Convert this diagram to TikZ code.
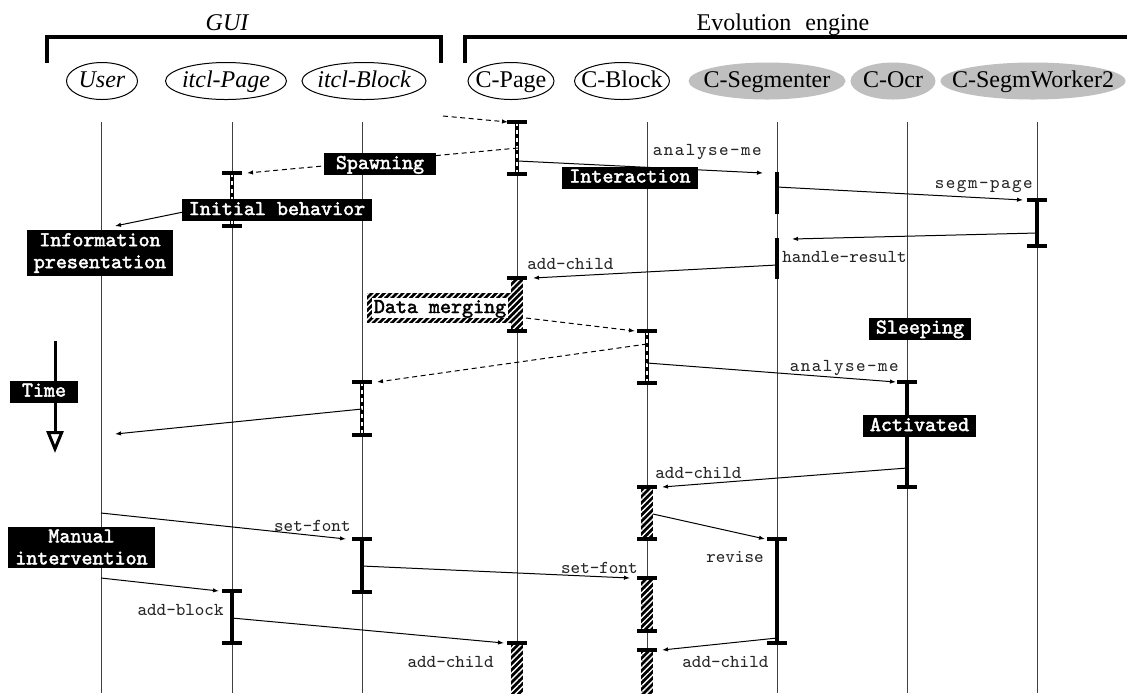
\documentclass[tikz,border=0pt]{standalone}
\usepackage{fontspec}
\setmainfont{Liberation Serif}
\setmonofont[AutoFakeBold=2.2]{Latin Modern Mono}
\newfontfamily\spacedmono[LetterSpace=8]{Latin Modern Mono}
\usetikzlibrary{arrows.meta,shapes.geometric,patterns.meta,backgrounds}

\begin{document}
\begin{tikzpicture}[x=0.5pt, y=-0.5pt, >={Latex[length=3pt,width=2.2pt]},
    actor/.style={ellipse, draw, line width=0.5pt, inner sep=0pt, minimum height=18.5pt,
      text height=8.5pt, text depth=2.5pt, font=\fontsize{12}{14}\selectfont},
    agent/.style={actor, draw=none, fill=black!25},
    life/.style={black!75, line width=0.5pt},
    msg/.style={->, line width=0.5pt},
    spawn/.style={msg, dash pattern=on 2.5pt off 1.8pt},
    lbl/.style={inner sep=0pt, font=\ttfamily\fontsize{9.1}{10}\selectfont, text=black!85},
    tagbase/.style={fill=black, text=white, inner xsep=3.5pt, inner ysep=1pt,
      font=\ttfamily\bfseries\fontsize{10.5}{11}\selectfont},
    tag/.style={tagbase, text height=7pt, text depth=2pt},
    tagtwo/.style={tagbase, align=center, inner ysep=1.5pt},
    merge/.style={tag, fill=white, text=black, inner xsep=1pt, inner ysep=0.5pt},
    barcap/.style={line width=1.6pt},
    hatch/.style={pattern={Lines[angle=45,distance=2.2pt,line width=0.7pt]}, pattern color=white}]
  \useasboundingbox (0,0) rectangle (1127,693);

  % groups
  \draw[line width=2pt] (47,63) -- (47,37) -- (441,37) -- (441,63);
  \draw[line width=2pt] (465,63) -- (465,37) -- (1127,37);
  \node[anchor=base, font=\itshape\fontsize{12}{14}\selectfont] (gui) at (227,30) {GUI};
  \node[anchor=base, font=\fontsize{12}{14}\selectfont] (evo) at (783,30) {Evolution\hspace{4pt} engine};

  % objects
  \node[actor, minimum width=35.5pt] (user) at (102,81) {\makebox[0pt]{\itshape User}};
  \node[actor, minimum width=60.5pt] (ipage) at (226,81) {\makebox[0pt]{\itshape itcl-Page}};
  \node[actor, minimum width=62pt] (iblock) at (364,81) {\makebox[0pt]{\itshape itcl-Block}};
  \node[actor, minimum width=43pt] (cpage) at (511,81) {\makebox[0pt]{C-Page}};
  \node[actor, minimum width=47.5pt] (cblock) at (622,81) {\makebox[0pt]{C-Block}};
  \node[agent, minimum width=78.5pt] (cseg) at (767,81) {\makebox[0pt]{C-Segmenter}};
  \node[agent, minimum width=42.5pt] (cocr) at (893,81) {\makebox[0pt]{C-Ocr}};
  \node[agent, minimum width=92.5pt] (cworker) at (1033,81) {\makebox[0pt]{C-SegmWorker2}};

  % life lines
  \foreach \x in {101,232,362,517,647,777,907,1037}
    \draw[life] (\x,122) -- (\x,693);

  % spawning bars
  \foreach \x/\t/\b in {517/122/174, 232/173/226, 647/331/383, 362/382/435} {
    \draw[line width=2.4pt] (\x,\t) -- (\x,\b);
    \draw[white, line width=0.7pt, dash pattern=on 2pt off 2pt] (\x,\t) -- (\x,\b);
    \draw[barcap] (\x-10,\t) -- (\x+10,\t) (\x-10,\b) -- (\x+10,\b);
  }
  % activity bars
  \foreach \x/\t/\b in {1037/200/246, 907/382/487, 362/539/592, 232/591/643, 777/539/643} {
    \draw[line width=2.2pt] (\x,\t) -- (\x,\b);
    \draw[barcap] (\x-10,\t) -- (\x+10,\t) (\x-10,\b) -- (\x+10,\b);
  }
  \foreach \t/\b in {172/214, 238/279}
    \draw[line width=2.2pt] (777,\t) -- (777,\b);
  % merging bars
  \foreach \x/\t/\b in {517/278/331, 647/487/539, 647/578/631, 517/643/700, 647/650/700} {
    \fill (\x-6,\t) rectangle (\x+6,\b);
    \fill[hatch] (\x-6,\t) rectangle (\x+6,\b);
    \draw[barcap] (\x-10,\t) -- (\x+10,\t);
  }
  \foreach \x/\b in {517/331, 647/539, 647/631}
    \draw[barcap] (\x-10,\b) -- (\x+10,\b);

  % message ends
  \foreach \n/\x/\y in {outA/443/116, cpTop/508/122, cpS/518/148, ipTop/247/173,
      ipS/232/202, userA/115/226, cpA/518/161, csA/763/173, csB/777/187, cwA/1023/200,
      cwB/1037/233, csC/792/239, csD/777/265, cpB/533/278, cpC/526/318, cbTop/635/331,
      cbS/647/344, ibTop/377/382, ibS/362/409, userB/115/434, cbA/647/363, coA/896/382,
      coB/907/468, cbB/662/487, cbC/653/514, csE/765/539, userC/101/513, ibA/346/539,
      ibB/362/566, cbD/630/578, userD/101/578, ipA/219/591, ipB/232/618, cpD/504/643,
      csF/777/638, cbE/662/650, timeA/55/341, timeB/55/453}
    \coordinate (\n) at (\x,\y);

  % messages
  \draw[spawn] (outA) -- (cpTop);
  \draw[spawn] (cpS) -- (ipTop);
  \draw[spawn] (cpC) -- (cbTop);
  \draw[spawn] (cbS) -- (ibTop);
  \foreach \a/\b in {ipS/userA, cpA/csA, csB/cwA, cwB/csC, csD/cpB, ibS/userB, cbA/coA,
      coB/cbB, cbC/csE, userC/ibA, ibB/cbD, userD/ipA, ipB/cpD, csF/cbE}
    \draw[msg] (\a) -- (\b);
  \draw[line width=1.5pt, -{Triangle[open,length=11pt,width=8.5pt]}] (timeA) -- (timeB);

  % message names
  \node[lbl, anchor=east] (nAnalyseA) at (762,152) {\spacedmono analyse-me};
  \node[lbl, anchor=east] (nSegm) at (1033,187) {\spacedmono segm-page};
  \node[lbl, anchor=west] (nResult) at (782,257) {handle-result};
  \node[lbl, anchor=west] (nChildA) at (527,264) {add-child};
  \node[lbl, anchor=east] (nAnalyseB) at (899,368) {\spacedmono analyse-me};
  \node[lbl, anchor=west] (nChildB) at (655,473) {add-child};
  \node[lbl, anchor=east] (nRevise) at (764,557) {revise};
  \node[lbl, anchor=east] (nFontA) at (351,526) {set-font};
  \node[lbl, anchor=east] (nFontB) at (638,568) {set-font};
  \node[lbl, anchor=east] (nBlock) at (224,610) {add-block};
  \node[lbl, anchor=east] (nChildC) at (494,662) {add-child};
  \node[lbl, anchor=west] (nChildD) at (682,662) {add-child};

  % phases
  \node[tag, minimum width=56pt] (spawning) at (380,164) {Spawning};
  \node[tag] (initial) at (277,210) {Initial behavior};
  \node[tagtwo, minimum width=73pt] (presentation) at (100,253) {Information\\presentation};
  \node[tag] (interaction) at (630,177.5) {Interaction};
  \node[merge] (merging) at (440,308) {Data merging};
  \begin{scope}[on background layer]
    \fill ([shift={(-2.3pt,-2.3pt)}]merging.south west) rectangle ([shift={(2.3pt,2.3pt)}]merging.north east);
    \fill[hatch] ([shift={(-2.3pt,-2.3pt)}]merging.south west) rectangle ([shift={(2.3pt,2.3pt)}]merging.north east);
  \end{scope}
  \node[tag, minimum width=34pt] (time) at (44,391.5) {Time};
  \node[tag] (sleeping) at (920,328.5) {Sleeping};
  \node[tag] (activated) at (919.5,426) {Activated};
  \node[tagtwo] (manual) at (81.5,547) {Manual\\intervention};
\end{tikzpicture}
\end{document}
